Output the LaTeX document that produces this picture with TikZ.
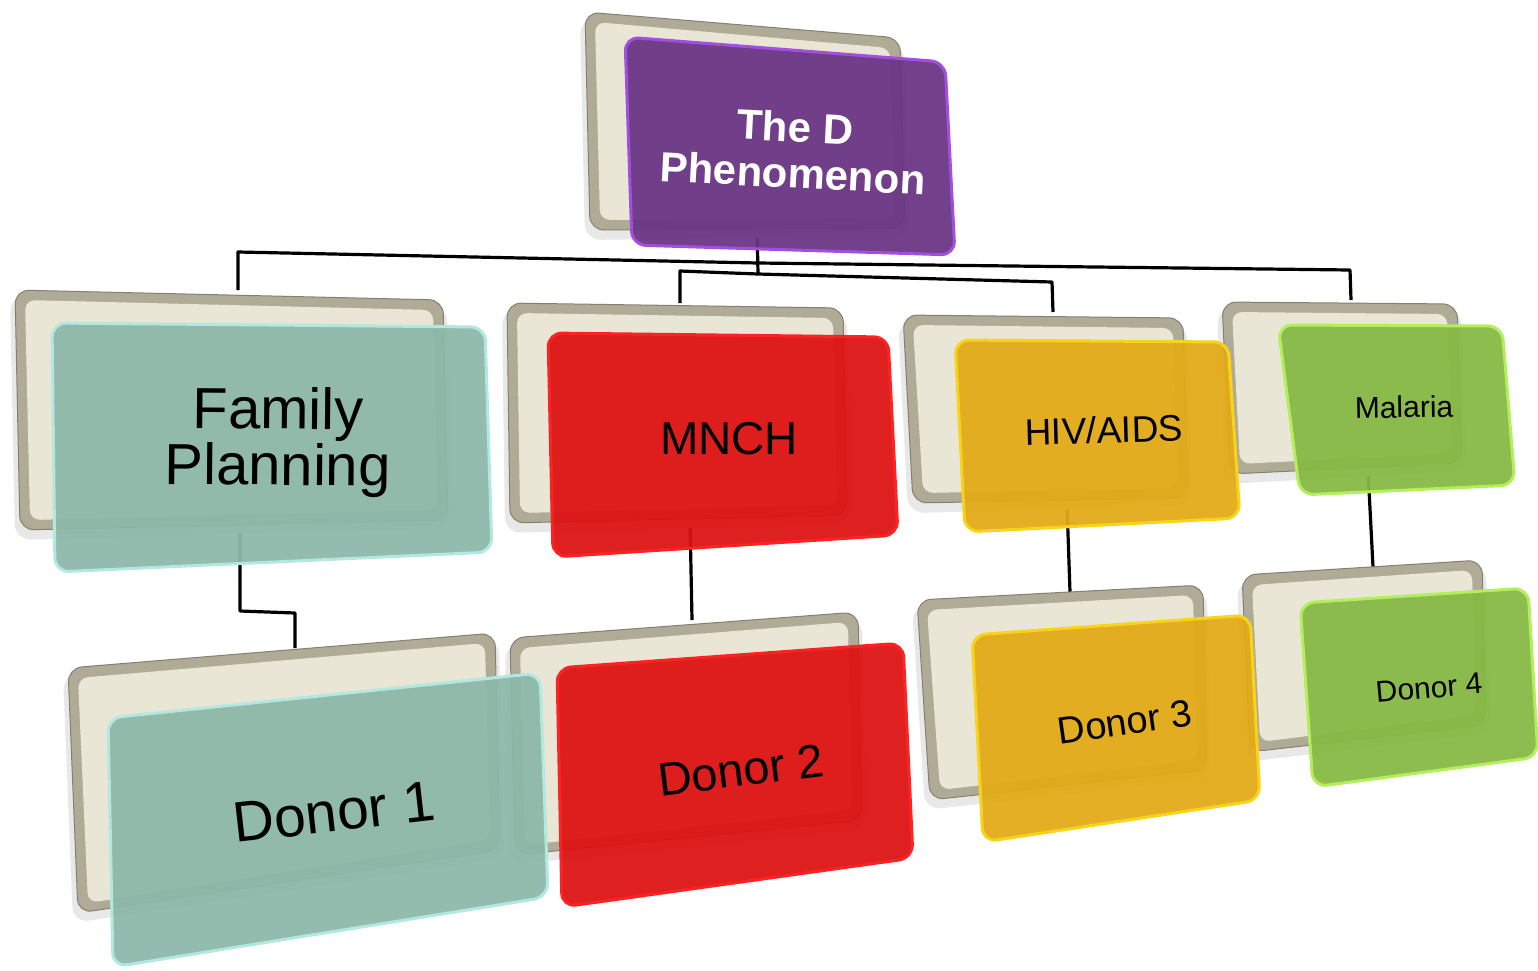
\documentclass[tikz,border=0pt]{standalone}
\usepackage{fontspec}
\setmainfont{Liberation Sans}
\definecolor{tealc}{HTML}{8CB8A9}
\definecolor{tealE}{HTML}{B2E8DF}
\definecolor{redc}{HTML}{DD1212}
\definecolor{redE}{HTML}{FF2222}
\definecolor{yelc}{HTML}{E2AA16}
\definecolor{yelE}{HTML}{F7D31A}
\definecolor{grnc}{HTML}{86B944}
\definecolor{grnE}{HTML}{B4EE5C}
\definecolor{purc}{HTML}{6A3585}
\definecolor{purE}{HTML}{A24FE0}
\definecolor{rimc}{HTML}{B0AB97}
\definecolor{rimd}{HTML}{858170}
\definecolor{facec}{HTML}{E9E6D6}
\tikzset{
  conn/.style={line width=3.2pt, draw=black},
  rimstyle/.style={fill=rimc, draw=rimd, line width=1pt, rounded corners=14pt},
  facestyle/.style={fill=facec, rounded corners=10pt},
  shadowstyle/.style={fill=black!9, rounded corners=16pt},
  lbl/.style={inner sep=0pt, align=center, text=black},
}
\newcommand\quadc[5]{\coordinate (#1a) at (#2); \coordinate (#1b) at (#3); \coordinate (#1c) at (#4); \coordinate (#1d) at (#5);}
\newcommand\backcard[1]{%
  \path[shadowstyle] ([shift={(-5,6)}]#1a) -- ([shift={(4,6)}]#1b) -- ([shift={(4,8)}]#1c) -- ([shift={(-5,10)}]#1d) -- cycle;
  \path[rimstyle] (#1a) -- (#1b) -- (#1c) -- (#1d) -- cycle;
  \path[facestyle] ([shift={(10,10)}]#1a) -- ([shift={(-10,10)}]#1b) -- ([shift={(-10,-10)}]#1c) -- ([shift={(10,-10)}]#1d) -- cycle;
}
\newcommand\frontcard[3]{%
  \path[draw=#3, line width=3pt, fill=#2, fill opacity=0.94, rounded corners=14pt] (#1a) -- (#1b) -- (#1c) -- (#1d) -- cycle;
}
\begin{document}
\begin{tikzpicture}[x=1pt,y=-1pt]
\useasboundingbox (0,0) rectangle (1538,970);
% connector anchors
\coordinate (rootS) at (757,225);
\coordinate (busM) at (758,263);
\coordinate (busJ) at (758,274);
\coordinate (busL) at (238,252);
\coordinate (busR) at (1350,270);
\coordinate (bus2L) at (680,271);
\coordinate (bus2R) at (1052,282);
\coordinate (fpT) at (238,290);
\coordinate (mnT) at (680,303);
\coordinate (hvT) at (1053,312);
\coordinate (mlT) at (1351,300);
\coordinate (fpS) at (240,530);
\coordinate (fpK) at (240,611);
\coordinate (fpK2) at (295,613);
\coordinate (d1T) at (295,648);
\coordinate (mnS) at (690,520);
\coordinate (d2T) at (692,620);
\coordinate (hvS) at (1067,505);
\coordinate (d3T) at (1070,592);
\coordinate (mlS) at (1368,470);
\coordinate (d4T) at (1373,567);
% connectors
\draw[conn] (rootS) -- (busJ);
\draw[conn, line join=round] (fpT) -- (busL) -- (busM) -- (busR) -- (mlT);
\draw[conn, line join=round] (mnT) -- (bus2L) -- (busJ) -- (bus2R) -- (hvT);
\draw[conn, line join=round] (fpS) -- (fpK) -- (fpK2) -- (d1T);
\draw[conn] (mnS) -- (d2T);
\draw[conn] (hvS) -- (d3T);
\draw[conn] (mlS) -- (d4T);
% back cards corners
\quadc{rB}{585,12}{900,38}{905,228}{590,230}
\quadc{fpB}{15,290}{443,300}{448,520}{20,530}
\quadc{mnB}{507,303}{843,308}{847,515}{510,523}
\quadc{hvB}{903,315}{1183,318}{1188,498}{913,503}
\quadc{mlB}{1222,302}{1457,304}{1462,463}{1230,474}
\quadc{d1B}{68,668}{495,633}{500,850}{78,913}
\quadc{d2B}{510,638}{858,612}{862,820}{515,855}
\quadc{d3B}{917,600}{1203,585}{1207,770}{930,800}
\quadc{d4B}{1242,575}{1482,560}{1486,725}{1250,752}
% front cards corners
\quadc{rF}{625,37}{945,62}{955,255}{632,245}
\quadc{fpF}{52,323}{485,327}{492,552}{55,572}
\quadc{mnF}{548,333}{888,337}{898,535}{553,557}
\quadc{hvF}{955,340}{1228,342}{1240,518}{965,532}
\quadc{mlF}{1278,325}{1502,326}{1515,485}{1300,495}
\quadc{d1F}{108,718}{540,673}{548,897}{113,967}
\quadc{d2F}{557,668}{903,643}{913,858}{562,907}
\quadc{d3F}{972,635}{1250,615}{1260,800}{983,842}
\quadc{d4F}{1300,603}{1528,588}{1538,757}{1313,787}
% back cards
\backcard{rB}
\backcard{fpB}
\backcard{mnB}
\backcard{hvB}
\backcard{mlB}
\backcard{d1B}
\backcard{d2B}
\backcard{d3B}
\backcard{d4B}
% front cards
\frontcard{rF}{purc}{purE}
\frontcard{fpF}{tealc}{tealE}
\frontcard{mnF}{redc}{redE}
\frontcard{hvF}{yelc}{yelE}
\frontcard{mlF}{grnc}{grnE}
\frontcard{d1F}{tealc}{tealE}
\frontcard{d2F}{redc}{redE}
\frontcard{d3F}{yelc}{yelE}
\frontcard{d4F}{grnc}{grnE}
% labels
\node[lbl, text=white, font=\bfseries\fontsize{42}{46}\selectfont, rotate=-3] (root) at (794,150) {The D\\Phenomenon};
\node[lbl, font=\fontsize{58}{56}\selectfont, rotate=-0.5] (fp) at (278,442) {Family\\Planning};
\node[lbl, font=\fontsize{46}{50}\selectfont] (mnch) at (729,439) {MNCH};
\node[lbl, font=\fontsize{37}{40}\selectfont, rotate=1.5] (hiv) at (1104,430) {HIV/AIDS};
\node[lbl, font=\fontsize{30}{34}\selectfont, rotate=1] (mal) at (1404,407) {Malaria};
\node[lbl, font=\fontsize{57}{60}\selectfont, rotate=6.5] (d1) at (334,812) {Donor 1};
\node[lbl, font=\fontsize{47}{50}\selectfont, rotate=7] (d2) at (741,770) {Donor 2};
\node[lbl, font=\fontsize{38}{42}\selectfont, rotate=8] (d3) at (1125,722) {Donor 3};
\node[lbl, font=\fontsize{30}{34}\selectfont, rotate=5] (d4) at (1429,688) {Donor 4};
\end{tikzpicture}
\end{document}
